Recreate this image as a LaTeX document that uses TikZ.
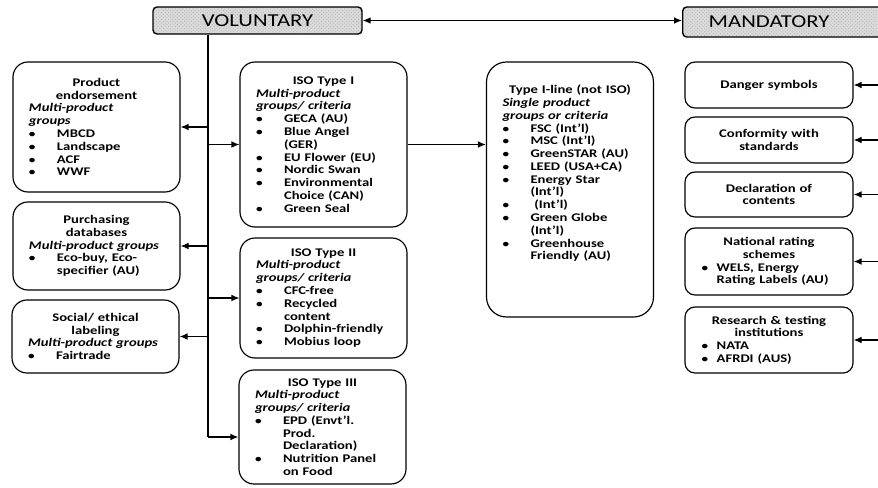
\documentclass[tikz,border=0pt]{standalone}
\usepackage{fontspec}
\setmainfont{Carlito}[FakeStretch=1.25]
\usetikzlibrary{arrows.meta,patterns}

\newlength{\bulw}
\newlength{\bulx}
\newcommand{\hd}[1]{{\centering\bfseries #1\par}}
\newcommand{\sub}[1]{\textit{#1}}
\newcommand{\itm}{\hspace*{\bulx}\makebox[\bulw][l]{\small\textbullet}}
\newcommand{\cnt}{\hspace*{\bulx}\hspace*{\bulw}}

\tikzset{
	box/.style={draw, line width=1pt, rounded corners=4.5mm, text width=40.5mm, inner xsep=4.8mm, inner ysep=0.5mm, font=\fontsize{10}{10.9}\selectfont\bfseries, execute at begin node={\setlength{\bulw}{8.4mm}\setlength{\bulx}{0mm}\setlength{\parindent}{0pt}\raggedright}},
	mbox/.style={box, rounded corners=3mm, inner xsep=3.5mm, text width=43.4mm, execute at begin node={\setlength{\bulw}{4.5mm}\setlength{\bulx}{1.5mm}}},
	tag/.style={draw, line width=1.2pt, rounded corners=1.2mm, preaction={fill=black!14}, pattern=crosshatch dots, pattern color=black!30, font=\fontsize{15.5}{17}\selectfont, minimum height=8.1mm},
	arr/.style={line width=1pt, -{Latex[length=2.4mm,width=2mm]}},
	both/.style={line width=1pt, {Latex[length=2.4mm,width=2mm]}-{Latex[length=2.4mm,width=2mm]}}
}

\begin{document}
\begin{tikzpicture}[x=0.3mm, y=-0.3mm]
	\useasboundingbox (0,0) rectangle (878,487);
	
	%%%%% TOP %%%%%
	\node[tag, minimum width=62.7mm] (vol) at (257.5,20.5) {VOLUNTARY};
	\node[tag, anchor=west, minimum height=9mm, text width=60mm, inner xsep=7.8mm, align=left] (mand) at (682,22) {MANDATORY};
	\draw[both] (vol.east) -- (vol.east -| mand.west);
	
	%%%%% VOLUNTARY %%%%%
	\node[box, minimum height=39mm] (endorse) at (96.5,127) {\hd{Product\\endorsement}\sub{Multi-product\\groups}\\\itm MBCD\\\itm Landscape\\\itm ACF\\\itm WWF};
	\node[box, minimum height=26.4mm] (purchase) at (96.5,246) {\hd{Purchasing\\databases}\sub{Multi-product groups}\\\itm Eco-buy, Eco-\\\cnt specifier (AU)};
	\node[box, minimum height=21.9mm] (social) at (95.5,336.5) {\hd{Social/ ethical\\labeling}\sub{Multi-product groups}\\\itm Fairtrade};
	
	\node[box, minimum height=49.5mm] (isoone) at (323.5,144.5) {\hd{ISO Type I}\sub{Multi-product\\groups/ criteria}\\\itm GECA (AU)\\\itm Blue Angel\\\cnt (GER)\\\itm EU Flower (EU)\\\itm Nordic Swan\\\itm Environmental\\\cnt Choice (CAN)\\\itm Green Seal};
	\node[box, minimum height=36mm] (isotwo) at (323.5,298) {\hd{ISO Type II}\sub{Multi-product\\groups/ criteria}\\\itm CFC-free\\\itm Recycled\\\cnt content\\\itm Dolphin-friendly\\\itm Mobius loop};
	\node[box, minimum height=34.2mm] (isothree) at (322.5,427) {\hd{ISO Type III}\sub{Multi-product\\groups/ criteria}\\\itm EPD (Envt'l.\\\cnt Prod.\\\cnt Declaration)\\\itm Nutrition Panel\\\cnt on Food};
	
	\node[box, rounded corners=6mm, minimum height=76.5mm] (iline) at (570,189.5) {\hd{Type I-line (not ISO)}\sub{Single product\\groups or criteria}\\\itm FSC (Int'l)\\\itm MSC (Int'l)\\\itm GreenSTAR (AU)\\\itm LEED (USA+CA)\\\itm Energy Star\\\cnt (Int'l)\\\itm\ (Int'l)\\\itm Green Globe\\\cnt (Int'l)\\\itm Greenhouse\\\cnt Friendly (AU)\par\vspace*{6.4mm}\null};
	
	\path (vol.south) ++(-49.5,0) coordinate (ttop);
	\coordinate (tbot) at (208,437);
	\draw[line width=1pt] (ttop) -- (tbot);
	\foreach \b in {endorse,purchase,social}
		\draw[arr] (ttop |- \b.east) -- (\b.east);
	\foreach \b in {isoone,isotwo}
		\draw[arr] (ttop |- \b.west) -- (\b.west);
	\draw[arr] (tbot) -- (tbot -| isothree.west);
	\draw[arr] (isoone.east) -- (isoone.east -| iline.west);
	
	%%%%% MANDATORY %%%%%
	\node[mbox, minimum height=13.8mm] (danger) at (769,85) {\hd{Danger symbols}};
	\node[mbox, minimum height=13.8mm] (conform) at (769,140) {\hd{Conformity with\\standards}};
	\node[mbox, minimum height=13.5mm] (declare) at (769,194.5) {\hd{Declaration of\\contents}};
	\node[mbox, minimum height=20.1mm] (rating) at (769,261.5) {\hd{National rating\\schemes}\itm WELS, Energy\\\cnt Rating Labels (AU)};
	\node[mbox, minimum height=19.8mm] (testing) at (769,340) {\hd{Research \& testing\\institutions}\itm NATA\\\itm AFRDI (AUS)};
	
	\coordinate (rail) at (885,0);
	\foreach \b in {danger,conform,declare,rating,testing}
		\draw[arr] (rail |- \b.east) -- (\b.east);
\end{tikzpicture}
\end{document}
